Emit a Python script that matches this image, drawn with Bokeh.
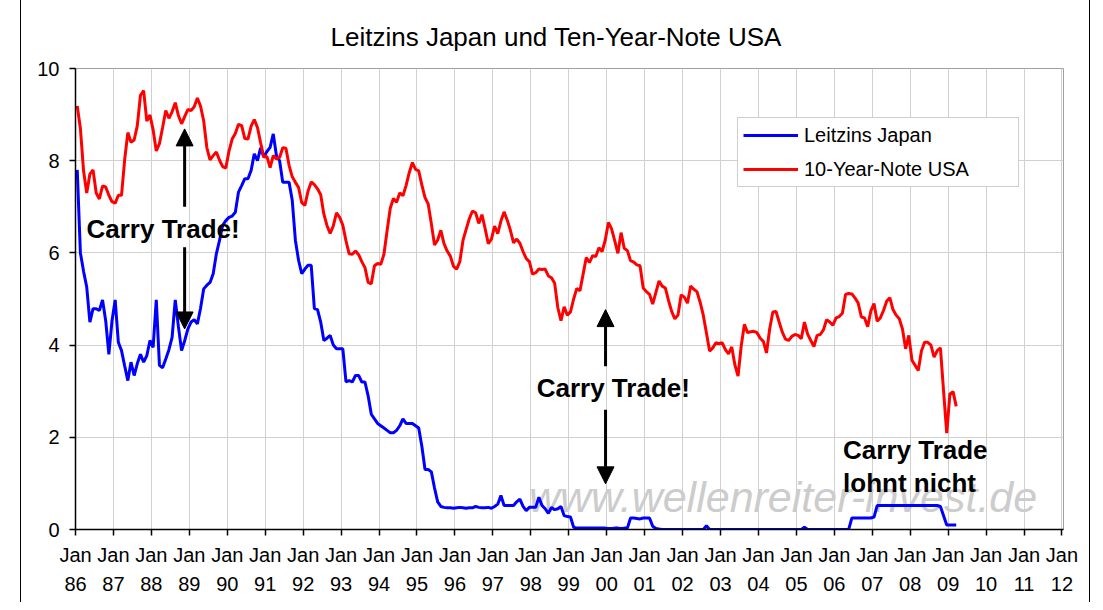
import numpy as np
from bokeh.plotting import figure
from bokeh.models import (Range1d, FixedTicker, Legend, LegendItem, Arrow,
                          NormalHead, Label, ColumnDataSource)
from bokeh.embed import file_html
from bokeh.resources import INLINE
from bokeh.core.properties import value

# ---------------- data ----------------
title_text = "Leitzins Japan und Ten-Year-Note USA"
series_names = ["Leitzins Japan", "10-Year-Note USA"]
tick_years = list(range(1986, 2013))
tick_labels = ["Jan\n%02d" % (y % 100) for y in tick_years]
y_ticks = [0, 2, 4, 6, 8, 10]
start_year = 1986  # first monthly value: Jan 1986

# Japan short-term policy rate, monthly Jan 1986 - Mar 2009
jp_rate = [
    7.8, 6.0, 5.6, 5.26, 4.5, 4.79, 4.79, 4.75, 4.98, 4.53, 3.8, 4.53,      # 1986
    4.98, 4.06, 3.88, 3.55, 3.23, 3.63, 3.34, 3.6, 3.8, 3.63, 3.77, 4.1,    # 1987
    3.95, 4.98, 3.56, 3.51, 3.7, 3.9, 4.17, 4.98, 4.4, 3.88, 4.1, 4.35,     # 1988
    4.5, 4.55, 4.46, 4.8, 5.22, 5.3, 5.36, 5.55, 5.98, 6.27, 6.6, 6.7,      # 1989
    6.77, 6.8, 6.88, 7.32, 7.46, 7.61, 7.61, 7.79, 8.15, 8.0, 8.28, 8.08,   # 1990
    8.2, 8.29, 8.58, 8.11, 8.0, 7.53, 7.53, 7.53, 7.14, 6.27, 5.84, 5.55,   # 1991
    5.65, 5.73, 5.73, 4.79, 4.77, 4.5, 4.1, 4.15, 4.21, 4.0, 3.92, 3.92,    # 1992
    3.92, 3.2, 3.23, 3.2, 3.34, 3.34, 3.2, 3.2, 2.9, 2.5, 2.4, 2.3,         # 1993
    2.25, 2.2, 2.15, 2.1, 2.1, 2.15, 2.25, 2.4, 2.3, 2.3, 2.3, 2.25,        # 1994
    2.2, 1.8, 1.3, 1.3, 1.25, 0.9, 0.6, 0.5, 0.48, 0.47, 0.47, 0.46,        # 1995
    0.47, 0.48, 0.47, 0.46, 0.47, 0.47, 0.5, 0.48, 0.47, 0.47, 0.48, 0.46,  # 1996
    0.5, 0.55, 0.74, 0.52, 0.52, 0.52, 0.52, 0.6, 0.66, 0.5, 0.41, 0.48,    # 1997
    0.48, 0.48, 0.7, 0.52, 0.45, 0.35, 0.48, 0.43, 0.45, 0.5, 0.3, 0.28,    # 1998
    0.27, 0.05, 0.03, 0.03, 0.03, 0.03, 0.03, 0.03, 0.03, 0.03, 0.03, 0.03, # 1999
    0.02, 0.02, 0.03, 0.03, 0.02, 0.03, 0.03, 0.25, 0.25, 0.24, 0.23, 0.25, # 2000
    0.25, 0.25, 0.07, 0.02, 0.01, 0.001, 0.001, 0.001, 0.001, 0.001, 0.001, 0.001,  # 2001
    0.001, 0.001, 0.001, 0.001, 0.001, 0.001, 0.001, 0.08, 0.001, 0.001, 0.001, 0.001,  # 2002
    0.001, 0.001, 0.001, 0.001, 0.001, 0.001, 0.001, 0.001, 0.001, 0.001, 0.001, 0.001,  # 2003
    0.001, 0.001, 0.001, 0.001, 0.001, 0.001, 0.001, 0.001, 0.001, 0.001, 0.001, 0.001,  # 2004
    0.001, 0.001, 0.05, 0.001, 0.001, 0.001, 0.001, 0.001, 0.001, 0.001, 0.001, 0.001,  # 2005
    0.001, 0.001, 0.001, 0.001, 0.001, 0.25, 0.25, 0.25, 0.25, 0.25, 0.25, 0.25,        # 2006
    0.27, 0.52, 0.52, 0.52, 0.52, 0.52, 0.52, 0.52, 0.52, 0.52, 0.52, 0.52, # 2007
    0.52, 0.52, 0.52, 0.52, 0.52, 0.52, 0.52, 0.52, 0.52, 0.5, 0.3, 0.1,    # 2008
    0.1, 0.1, 0.1,                                                           # 2009
]

# US 10-year note yield, monthly Jan 1986 - Mar 2009
us_10y = [
    9.19, 8.70, 7.78, 7.30, 7.71, 7.80, 7.30, 7.17, 7.45, 7.43, 7.25, 7.11,  # 1986
    7.08, 7.25, 7.25, 8.02, 8.61, 8.40, 8.45, 8.76, 9.42, 9.52, 8.86, 8.99,  # 1987
    8.67, 8.21, 8.37, 8.72, 9.09, 8.92, 9.06, 9.26, 8.98, 8.80, 8.96, 9.11,  # 1988
    9.09, 9.17, 9.36, 9.18, 8.86, 8.28, 8.02, 8.11, 8.19, 8.01, 7.87, 7.84,  # 1989
    8.21, 8.47, 8.59, 8.79, 8.76, 8.48, 8.47, 8.75, 8.89, 8.72, 8.39, 8.08,  # 1990
    8.09, 7.85, 8.11, 8.04, 8.07, 8.28, 8.27, 7.90, 7.65, 7.53, 7.42, 7.09,  # 1991
    7.03, 7.34, 7.54, 7.48, 7.39, 7.26, 6.84, 6.59, 6.42, 6.59, 6.87, 6.77,  # 1992
    6.60, 6.26, 5.98, 5.97, 6.04, 5.96, 5.81, 5.68, 5.36, 5.33, 5.72, 5.77,  # 1993
    5.75, 5.97, 6.48, 6.97, 7.18, 7.10, 7.30, 7.24, 7.46, 7.74, 7.96, 7.81,  # 1994
    7.78, 7.47, 7.20, 7.06, 6.63, 6.17, 6.28, 6.49, 6.20, 6.04, 5.93, 5.71,  # 1995
    5.65, 5.81, 6.27, 6.51, 6.74, 6.91, 6.87, 6.64, 6.83, 6.53, 6.20, 6.30,  # 1996
    6.58, 6.42, 6.69, 6.89, 6.71, 6.49, 6.22, 6.30, 6.21, 6.03, 5.88, 5.81,  # 1997
    5.54, 5.57, 5.65, 5.64, 5.65, 5.50, 5.46, 5.34, 4.81, 4.53, 4.83, 4.65,  # 1998
    4.72, 5.00, 5.23, 5.18, 5.54, 5.90, 5.79, 5.94, 5.92, 6.11, 6.03, 6.28,  # 1999
    6.66, 6.52, 6.26, 5.99, 6.44, 6.10, 6.05, 5.83, 5.80, 5.74, 5.72, 5.24,  # 2000
    5.16, 5.10, 4.89, 5.14, 5.39, 5.28, 5.24, 4.97, 4.73, 4.57, 4.65, 5.09,  # 2001
    5.04, 4.91, 5.28, 5.21, 5.16, 4.93, 4.65, 4.26, 3.87, 3.94, 4.05, 4.03,  # 2002
    4.05, 3.90, 3.81, 3.96, 3.57, 3.33, 3.98, 4.45, 4.27, 4.29, 4.30, 4.27,  # 2003
    4.15, 4.08, 3.83, 4.35, 4.72, 4.73, 4.50, 4.28, 4.13, 4.10, 4.19, 4.23,  # 2004
    4.21, 4.14, 4.50, 4.24, 4.10, 3.97, 4.21, 4.23, 4.33, 4.55, 4.50, 4.43,  # 2005
    4.59, 4.62, 4.69, 5.10, 5.12, 5.11, 5.02, 4.91, 4.61, 4.59, 4.40, 4.74,  # 2006
    4.90, 4.52, 4.59, 4.75, 4.95, 5.03, 4.77, 4.65, 4.57, 4.35, 3.92, 4.21,  # 2007
    3.67, 3.56, 3.45, 3.87, 4.06, 4.06, 4.00, 3.74, 3.88, 3.94, 3.00, 2.09,  # 2008
    2.94, 2.99, 2.67,                                                         # 2009
]

# ---------------- figure ----------------
FONT = "Liberation Sans"
month_idx = np.arange(len(us_10y))
t = start_year + (month_idx + 0.55) / 12.0
src = ColumnDataSource(dict(t=t, jp=jp_rate, us=us_10y))

p = figure(width=1070, height=602, output_backend="svg", toolbar_location=None,
           x_range=Range1d(1986, 2012.04), y_range=Range1d(0, 10),
           min_border_left=54, min_border_right=28, min_border_top=68,
           min_border_bottom=73, margin=(0, 0, 0, 20), title=title_text)
p.styles = {"border-left": "1px solid #000000", "border-right": "1px solid #000000"}

p.title.text_font = FONT
p.title.text_font_size = "26px"
p.title.text_font_style = "normal"
p.title.text_color = "#000000"
p.title.align = "left"
p.title.offset = 255
p.title.vertical_align = "bottom"
p.title.standoff = 34

p.background_fill_color = "white"
p.border_fill_color = "white"
p.outline_line_color = "#a0a0a0"
p.outline_line_width = 1

# axes
p.xaxis.ticker = FixedTicker(ticks=tick_years)
p.xaxis.major_label_overrides = {y: lab for y, lab in zip(tick_years, tick_labels)}
p.yaxis.ticker = FixedTicker(ticks=y_ticks)
for ax in (p.xaxis[0], p.yaxis[0]):
    ax.axis_line_color = "#000000"
    ax.axis_line_width = 1.5
    ax.major_tick_line_color = "#000000"
    ax.major_tick_line_width = 1.5
    ax.major_tick_out = 6
    ax.major_tick_in = 0
    ax.minor_tick_line_color = None
    ax.major_label_text_font = FONT
    ax.major_label_text_font_size = "20px"
    ax.major_label_text_color = "#000000"
p.xaxis.major_label_standoff = 8
p.xaxis.major_label_text_line_height = 1.35
p.yaxis.major_label_standoff = 10

p.xgrid.ticker = FixedTicker(ticks=tick_years)
p.ygrid.ticker = FixedTicker(ticks=y_ticks)
p.grid.grid_line_color = "#d0d0d0"
p.grid.grid_line_width = 1

# watermark (behind the data)
p.text(x=[1997.95], y=[0.70], text=["www.wellenreiter-invest.de"],
       text_font=value(FONT), text_font_style="italic", text_font_size="43px",
       text_color="#cccccc", text_baseline="alphabetic", text_align="left")

r_jp = p.line("t", "jp", source=src, line_color="#0000ff", line_width=3)
r_us = p.line("t", "us", source=src, line_color="#ff0000", line_width=3)

legend = Legend(items=[LegendItem(label=series_names[0], renderers=[r_jp]),
                       LegendItem(label=series_names[1], renderers=[r_us])],
                location=(662, 342), label_text_font=FONT, label_text_font_size="20px",
                label_text_color="#000000",
                glyph_width=55, glyph_height=24, label_height=24, label_width=209,
                label_standoff=6, spacing=10, padding=5, margin=0,
                border_line_color="#a0a0a0", border_line_width=1,
                background_fill_color="white", background_fill_alpha=1.0)
p.add_layout(legend, "center")

# arrows
def add_arrow(x, y0, y1):
    p.add_layout(Arrow(x_start=x, y_start=y0, x_end=x, y_end=y1, line_width=3,
                       line_color="black",
                       end=NormalHead(size=17, fill_color="black", line_color="black")))

add_arrow(1988.876, 7.0, 8.69)
add_arrow(1988.876, 6.12, 4.35)
add_arrow(1999.97, 3.54, 4.77)
add_arrow(1999.97, 2.60, 0.99)

def add_label(x, y, txt):
    p.add_layout(Label(x=x, y=y, text=txt, text_font=FONT, text_font_style="bold",
                       text_font_size="26px", text_color="black",
                       text_baseline="alphabetic", text_align="left"))

add_label(1986.29, 6.51, "Carry Trade!")
add_label(1998.156, 3.07, "Carry Trade!")
add_label(2006.23, 1.72, "Carry Trade")
add_label(2006.23, 1.00, "lohnt nicht")

open("out.html", "w").write(file_html(p, INLINE))
